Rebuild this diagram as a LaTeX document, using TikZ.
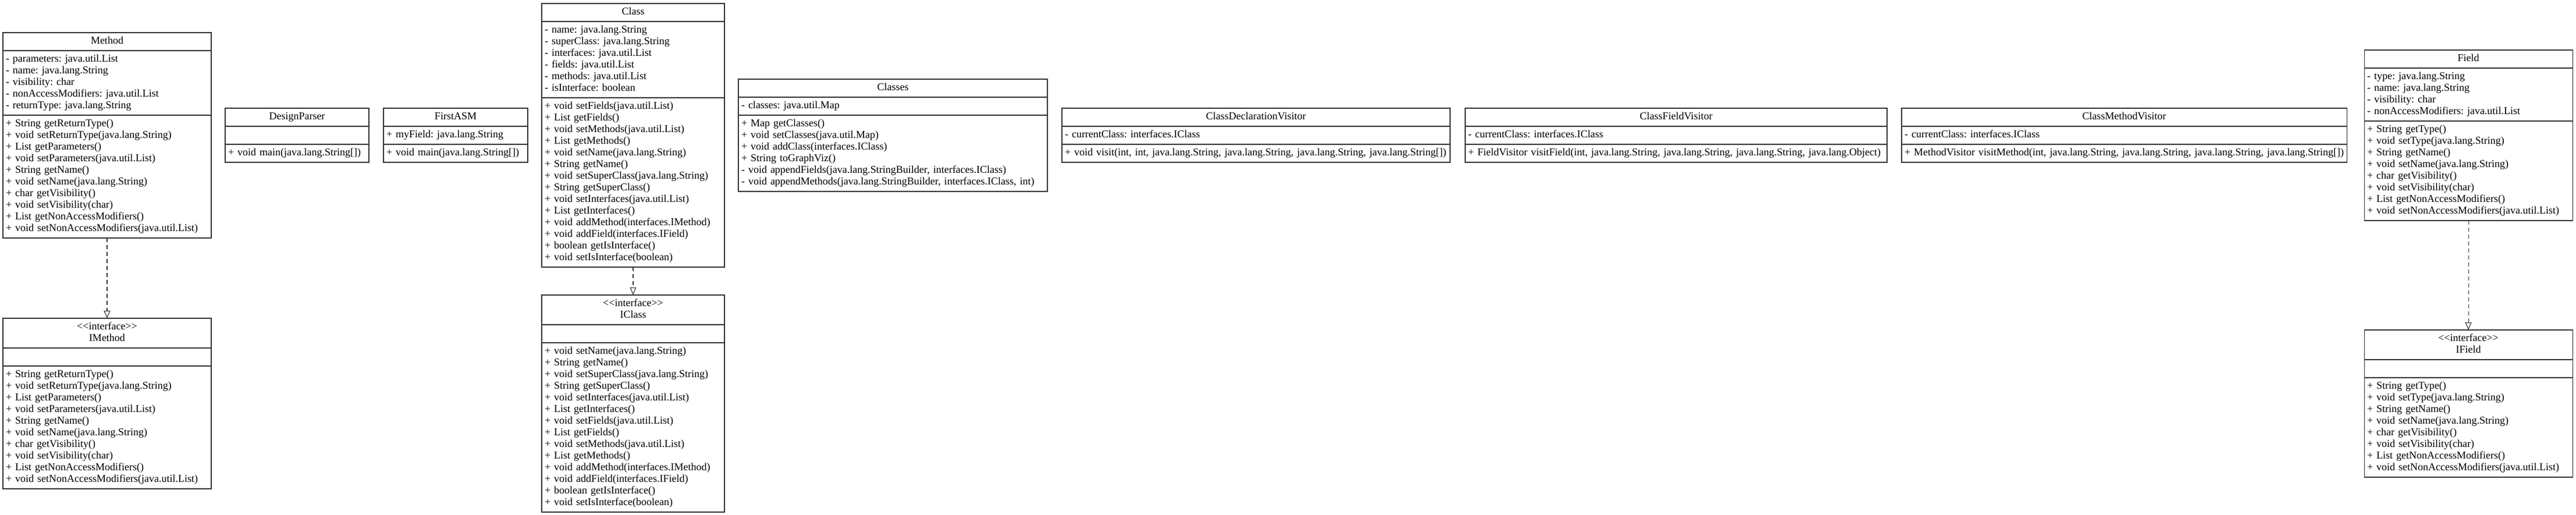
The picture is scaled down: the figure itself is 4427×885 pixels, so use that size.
\documentclass[tikz,border=0pt]{standalone}
\usepackage{fontspec}
\setmainfont{Liberation Serif}
\usetikzlibrary{positioning,arrows.meta}
\tikzset{
  box/.style={draw=black!80, line width=1.1pt, outer sep=0pt,
    inner xsep=5pt, inner ysep=5.5pt,
    font=\fontsize{18}{20}\selectfont\frenchspacing,
    execute at begin node=\strut, execute at end node=\strut},
  head/.style={box, align=center, anchor=north west},
  compartment/.style={box, align=left, below=0pt of #1},
  realizes/.style={draw=black!80, line width=1.1pt, dash pattern=on 7pt off 5pt,
    -{Triangle[open, length=13pt, width=11pt]}}
}
\newcommand{\stereo}{\textless\kern0pt\textless interface\textgreater\kern0pt\textgreater}
\begin{document}
\begin{tikzpicture}[x=1pt, y=-1pt]
\useasboundingbox (0,0) rectangle (4427,885);

% Method and IMethod
\node[head, text width=348pt] (method) at (5,56) {Method};
\node[compartment=method, text width=348pt] (methodattr) {- parameters: java.util.List\\- name: java.lang.String\\- visibility: char\\- nonAccessModifiers: java.util.List\\- returnType: java.lang.String};
\node[compartment=methodattr, text width=348pt] (methodops) {+ String getReturnType()\\+ void setReturnType(java.lang.String)\\+ List getParameters()\\+ void setParameters(java.util.List)\\+ String getName()\\+ void setName(java.lang.String)\\+ char getVisibility()\\+ void setVisibility(char)\\+ List getNonAccessModifiers()\\+ void setNonAccessModifiers(java.util.List)};

\node[head, text width=348pt] (imethod) at (5,547) {\stereo\\IMethod};
\node[compartment=imethod, text width=348pt] (imethodattr) {};
\node[compartment=imethodattr, text width=348pt] (imethodops) {+ String getReturnType()\\+ void setReturnType(java.lang.String)\\+ List getParameters()\\+ void setParameters(java.util.List)\\+ String getName()\\+ void setName(java.lang.String)\\+ char getVisibility()\\+ void setVisibility(char)\\+ List getNonAccessModifiers()\\+ void setNonAccessModifiers(java.util.List)};

% DesignParser and FirstASM
\node[head, text width=237pt] (parser) at (387,186) {DesignParser};
\node[compartment=parser, text width=237pt] (parserattr) {};
\node[compartment=parserattr, text width=237pt] (parserops) {+ void main(java.lang.String[])};

\node[head, text width=238pt] (firstasm) at (659,186) {FirstASM};
\node[compartment=firstasm, text width=238pt] (firstasmattr) {+ myField: java.lang.String};
\node[compartment=firstasmattr, text width=238pt] (firstasmops) {+ void main(java.lang.String[])};

% Class and IClass
\node[head, text width=304pt] (class) at (931,6) {Class};
\node[compartment=class, text width=304pt] (classattr) {- name: java.lang.String\\- superClass: java.lang.String\\- interfaces: java.util.List\\- fields: java.util.List\\- methods: java.util.List\\- isInterface: boolean};
\node[compartment=classattr, text width=304pt] (classops) {+ void setFields(java.util.List)\\+ List getFields()\\+ void setMethods(java.util.List)\\+ List getMethods()\\+ void setName(java.lang.String)\\+ String getName()\\+ void setSuperClass(java.lang.String)\\+ String getSuperClass()\\+ void setInterfaces(java.util.List)\\+ List getInterfaces()\\+ void addMethod(interfaces.IMethod)\\+ void addField(interfaces.IField)\\+ boolean getIsInterface()\\+ void setIsInterface(boolean)};

\node[head, text width=304pt] (iclass) at (931,507) {\stereo\\IClass};
\node[compartment=iclass, text width=304pt] (iclassattr) {};
\node[compartment=iclassattr, text width=304pt] (iclassops) {+ void setName(java.lang.String)\\+ String getName()\\+ void setSuperClass(java.lang.String)\\+ String getSuperClass()\\+ void setInterfaces(java.util.List)\\+ List getInterfaces()\\+ void setFields(java.util.List)\\+ List getFields()\\+ void setMethods(java.util.List)\\+ List getMethods()\\+ void addMethod(interfaces.IMethod)\\+ void addField(interfaces.IField)\\+ boolean getIsInterface()\\+ void setIsInterface(boolean)};

% Classes
\node[head, text width=521pt] (classes) at (1269,136) {Classes};
\node[compartment=classes, text width=521pt] (classesattr) {- classes: java.util.Map};
\node[compartment=classesattr, text width=521pt] (classesops) {+ Map getClasses()\\+ void setClasses(java.util.Map)\\+ void addClass(interfaces.IClass)\\+ String toGraphViz()\\- void appendFields(java.lang.StringBuilder, interfaces.IClass)\\- void appendMethods(java.lang.StringBuilder, interfaces.IClass, int)};

% Visitors
\node[head, text width=657pt] (declvisitor) at (1825,186) {ClassDeclarationVisitor};
\node[compartment=declvisitor, text width=657pt] (declvisitorattr) {- currentClass: interfaces.IClass};
\node[compartment=declvisitorattr, text width=657pt] (declvisitorops) {+ void visit(int, int, java.lang.String, java.lang.String, java.lang.String, java.lang.String[])};

\node[head, text width=715pt] (fieldvisitor) at (2518,186) {ClassFieldVisitor};
\node[compartment=fieldvisitor, text width=715pt] (fieldvisitorattr) {- currentClass: interfaces.IClass};
\node[compartment=fieldvisitorattr, text width=715pt] (fieldvisitorops) {+ FieldVisitor visitField(int, java.lang.String, java.lang.String, java.lang.String, java.lang.Object)};

\node[head, text width=755pt] (methodvisitor) at (3268,186) {ClassMethodVisitor};
\node[compartment=methodvisitor, text width=755pt] (methodvisitorattr) {- currentClass: interfaces.IClass};
\node[compartment=methodvisitorattr, text width=755pt] (methodvisitorops) {+ MethodVisitor visitMethod(int, java.lang.String, java.lang.String, java.lang.String, java.lang.String[])};

% Field and IField
\node[head, text width=348pt] (field) at (4063,86) {Field};
\node[compartment=field, text width=348pt] (fieldattr) {- type: java.lang.String\\- name: java.lang.String\\- visibility: char\\- nonAccessModifiers: java.util.List};
\node[compartment=fieldattr, text width=348pt] (fieldops) {+ String getType()\\+ void setType(java.lang.String)\\+ String getName()\\+ void setName(java.lang.String)\\+ char getVisibility()\\+ void setVisibility(char)\\+ List getNonAccessModifiers()\\+ void setNonAccessModifiers(java.util.List)};

\node[head, text width=348pt] (ifield) at (4063,567) {\stereo\\IField};
\node[compartment=ifield, text width=348pt] (ifieldattr) {};
\node[compartment=ifieldattr, text width=348pt] (ifieldops) {+ String getType()\\+ void setType(java.lang.String)\\+ String getName()\\+ void setName(java.lang.String)\\+ char getVisibility()\\+ void setVisibility(char)\\+ List getNonAccessModifiers()\\+ void setNonAccessModifiers(java.util.List)};

% Realizations
\draw[realizes] (methodops.south) -- (imethod.north);
\draw[realizes] (classops.south) -- (iclass.north);
\draw[realizes] (fieldops.south) -- (ifield.north);

\end{tikzpicture}
\end{document}
